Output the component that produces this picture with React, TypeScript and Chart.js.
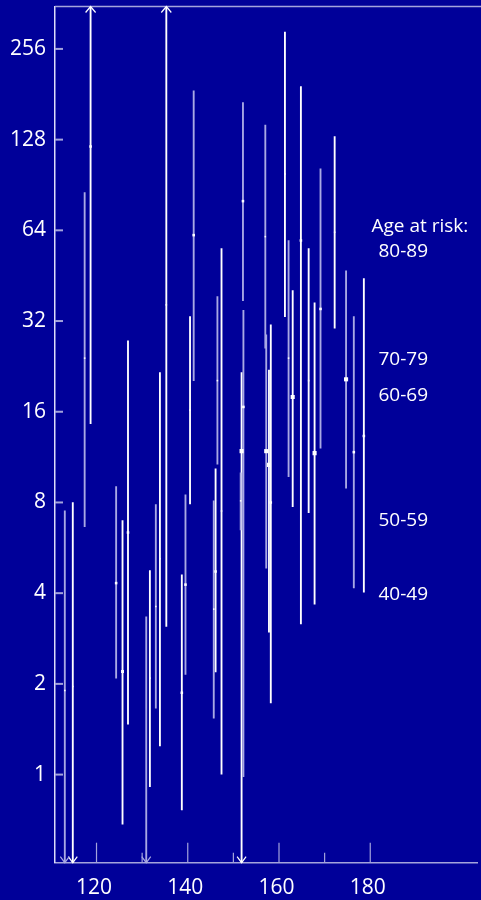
import React, { useEffect, useRef } from 'react';
import { Chart, registerables } from 'chart.js';

Chart.register(...registerables);

// Systolic blood pressure (mmHg) against relative rate (log2 scale).
// Estimates with their confidence intervals, in two groups.

// Group drawn in bright white
const brightX = [114.8, 118.7, 125.7, 126.9, 131.7, 133.9, 135.3, 138.7, 140.5, 146.1, 147.4, 151.8, 157.8, 158.2, 161.3, 163.0, 164.8, 166.5, 167.8, 172.2, 178.6];
const brightLow = [0.3, 14.6, 0.684, 1.47, 0.912, 1.245, 3.1, 0.764, 7.91, 2.19, 1.003, 0.3, 2.97, 1.73, 33.1, 7.75, 3.16, 7.4, 3.68, 30.3, 4.03];
const brightHigh = [8.0, 600, 6.97, 27.5, 4.75, 21.6, 600, 4.6, 33.1, 10.34, 55.7, 21.6, 22.0, 31.1, 290.9, 40.4, 192, 55.7, 36.8, 131, 44.3];
const brightEst = [1.96, 121.4, 2.2, 6.36, 2.09, 5.2, 36.2, 1.87, 16.2, 4.72, 7.5, 11.84, 10.66, 8.0, 98.5, 17.9, 59.2, 20.3, 11.66, 63.1, 13.3];

// Group drawn in pale lavender
const paleX = [113.05, 117.4, 124.3, 130.9, 133.0, 139.5, 141.3, 145.7, 146.5, 151.6, 152.1, 152.2, 157.0, 157.2, 162.1, 169.1, 174.7, 176.4];
const paleLow = [0.3, 6.65, 2.09, 0.3, 1.66, 2.15, 20.3, 1.54, 10.72, 6.49, 37.4, 0.985, 26.0, 4.84, 9.75, 12.11, 8.92, 4.16];
const paleHigh = [7.5, 85.4, 9.03, 3.34, 7.87, 8.48, 186, 8.1, 38.6, 10.03, 170, 34.7, 143, 28.8, 59.2, 102.3, 47.0, 33.1];
const paleEst = [1.9, 24.1, 4.32, 0.454, 3.61, 4.27, 61.7, 3.54, 20.3, 8.1, 80.0, 16.6, 61.0, 11.84, 24.1, 35.1, 20.5, 11.75];

// Axis ticks
const xTickValues = [120, 140, 160, 180];
const xMinorTicks = [130, 150, 170];
const yTickValues = [1, 2, 4, 8, 16, 32, 64, 128, 256];

// Side labels
const legendTitle = 'Age at risk:';
const ageBands = ['80-89', '70-79', '60-69', '50-59', '40-49'];

// Styling
const BG = '#000099';
const WHITE = '#ffffff';
const PALE = '#a9a9e4';
const AXIS = '#a4a4dc';
const FONT = "'Open Sans', sans-serif";
const BIG = 2.9;
const MID = 2.1;
const SMALL = 1.8;
const TINY = 1.1;
const brightRadius = [TINY, SMALL, MID, SMALL, TINY, TINY, TINY, SMALL, TINY, SMALL, TINY, BIG, BIG, SMALL, TINY, BIG, SMALL, TINY, BIG, TINY, SMALL];
const paleRadius = [TINY, TINY, SMALL, TINY, TINY, SMALL, SMALL, TINY, TINY, TINY, SMALL, SMALL, TINY, BIG, TINY, SMALL, BIG, SMALL];

const decorPlugin = {
  id: 'decor',
  afterDatasetsDraw(chart: any) {
    const { ctx, chartArea, scales } = chart;
    const x = scales.x;
    const y = scales.y;
    ctx.save();

    // frame line along the top
    ctx.strokeStyle = AXIS;
    ctx.lineWidth = 1.5;
    ctx.beginPath();
    ctx.moveTo(chartArea.left, chartArea.top);
    ctx.lineTo(chart.width, chartArea.top);
    ctx.stroke();

    // inward tick marks on the y axis
    ctx.lineWidth = 2;
    for (const v of yTickValues) {
      const py = y.getPixelForValue(v);
      ctx.beginPath();
      ctx.moveTo(chartArea.left, py);
      ctx.lineTo(chartArea.left + 8, py);
      ctx.stroke();
    }

    // inward tick marks on the x axis
    ctx.lineWidth = 1.2;
    const tick = (v: number, len: number) => {
      const px = x.getPixelForValue(v);
      ctx.beginPath();
      ctx.moveTo(px, chartArea.bottom);
      ctx.lineTo(px, chartArea.bottom - len);
      ctx.stroke();
    };
    xTickValues.forEach((v) => tick(v, 20));
    xMinorTicks.forEach((v) => tick(v, 10));

    // arrow heads where an interval runs past the axis range
    ctx.lineWidth = 1.2;
    chart.data.datasets.forEach((ds: any, di: number) => {
      if (ds.type !== 'bar') return;
      const meta = chart.getDatasetMeta(di);
      ctx.strokeStyle = ds.backgroundColor;
      ds.data.forEach((d: any, i: number) => {
        const px = meta.data[i].x;
        if (d.y[1] > y.max) {
          ctx.beginPath();
          ctx.moveTo(px - 5, chartArea.top + 6);
          ctx.lineTo(px, chartArea.top);
          ctx.lineTo(px + 5, chartArea.top + 6);
          ctx.stroke();
        }
        if (d.y[0] < y.min) {
          ctx.beginPath();
          ctx.moveTo(px - 4.5, chartArea.bottom - 6);
          ctx.lineTo(px, chartArea.bottom);
          ctx.lineTo(px + 4.5, chartArea.bottom - 6);
          ctx.stroke();
        }
      });
    });

    // age band labels
    ctx.fillStyle = WHITE;
    ctx.font = `19px ${FONT}`;
    ctx.textAlign = 'left';
    ctx.textBaseline = 'alphabetic';
    ctx.fillText(legendTitle, 371.5, 231.5);
    const baselines = [257.3, 365, 400.7, 526, 599.5];
    ageBands.forEach((t, i) => ctx.fillText(t, 378.5, baselines[i]));

    ctx.restore();
  },
};

export default function App() {
  const ref = useRef<HTMLCanvasElement>(null);

  useEffect(() => {
    document.body.style.margin = '0';
    document.body.style.background = BG;

    const chart = new Chart(ref.current as HTMLCanvasElement, {
      type: 'bar',
      data: {
        datasets: [
          {
            type: 'bar',
            label: 'bright',
            data: brightX.map((x, i) => ({ x, y: [brightLow[i], brightHigh[i]] })) as any,
            backgroundColor: WHITE,
            borderWidth: 0,
            barThickness: 1.2,
            grouped: false,
            order: 3,
          },
          {
            type: 'bar',
            label: 'pale',
            data: paleX.map((x, i) => ({ x, y: [paleLow[i], paleHigh[i]] })) as any,
            backgroundColor: PALE,
            borderWidth: 0,
            barThickness: 1.2,
            grouped: false,
            order: 2,
          },
          {
            type: 'scatter',
            label: 'bright estimate',
            data: brightX.map((x, i) => ({ x, y: brightEst[i] })),
            pointStyle: 'rect',
            pointRadius: brightRadius,
            backgroundColor: WHITE,
            borderWidth: 0,
            order: 1,
          } as any,
          {
            type: 'scatter',
            label: 'pale estimate',
            data: paleX.map((x, i) => ({ x, y: paleEst[i] })),
            pointStyle: 'rect',
            pointRadius: paleRadius,
            backgroundColor: WHITE,
            borderWidth: 0,
            clip: false,
            order: 0,
          } as any,
        ],
      },
      options: {
        animation: false,
        responsive: true,
        maintainAspectRatio: false,
        layout: { padding: { top: 6.5, left: 0, right: 0, bottom: 0 } },
        plugins: { legend: { display: false }, tooltip: { enabled: false } },
        scales: {
          x: {
            type: 'linear',
            offset: false,
            min: 110.9,
            max: 203.4,
            afterBuildTicks: (s: any) => {
              s.ticks = xTickValues.map((value) => ({ value }));
            },
            afterFit: (s: any) => {
              s.height = 37.3;
              s.paddingLeft = 0;
              s.paddingRight = 0;
            },
            ticks: {
              color: WHITE,
              font: { family: FONT, size: 21 },
              padding: 13,
              labelOffset: -2.5,
              maxRotation: 0,
              autoSkip: false,
              callback: (v: any) => String(v),
            },
            grid: { display: false, drawTicks: false },
            border: { display: true, color: AXIS, width: 1.5 },
          },
          y: {
            type: 'logarithmic',
            min: 0.51,
            max: 354,
            afterBuildTicks: (s: any) => {
              s.ticks = yTickValues.map((value) => ({ value }));
            },
            afterFit: (s: any) => {
              s.width = 55;
              s.paddingTop = 0;
              s.paddingBottom = 0;
            },
            ticks: {
              color: WHITE,
              font: { family: FONT, size: 21 },
              padding: 9,
              autoSkip: false,
              callback: (v: any) => String(v),
            },
            grid: { display: false, drawTicks: false },
            border: { display: true, color: '#dcdcfa', width: 1.5 },
          },
        },
      } as any,
      plugins: [decorPlugin],
    });

    return () => chart.destroy();
  }, []);

  return (
    <div style={{ width: 481, height: 900, position: 'relative', background: BG }}>
      <canvas ref={ref} />
    </div>
  );
}
